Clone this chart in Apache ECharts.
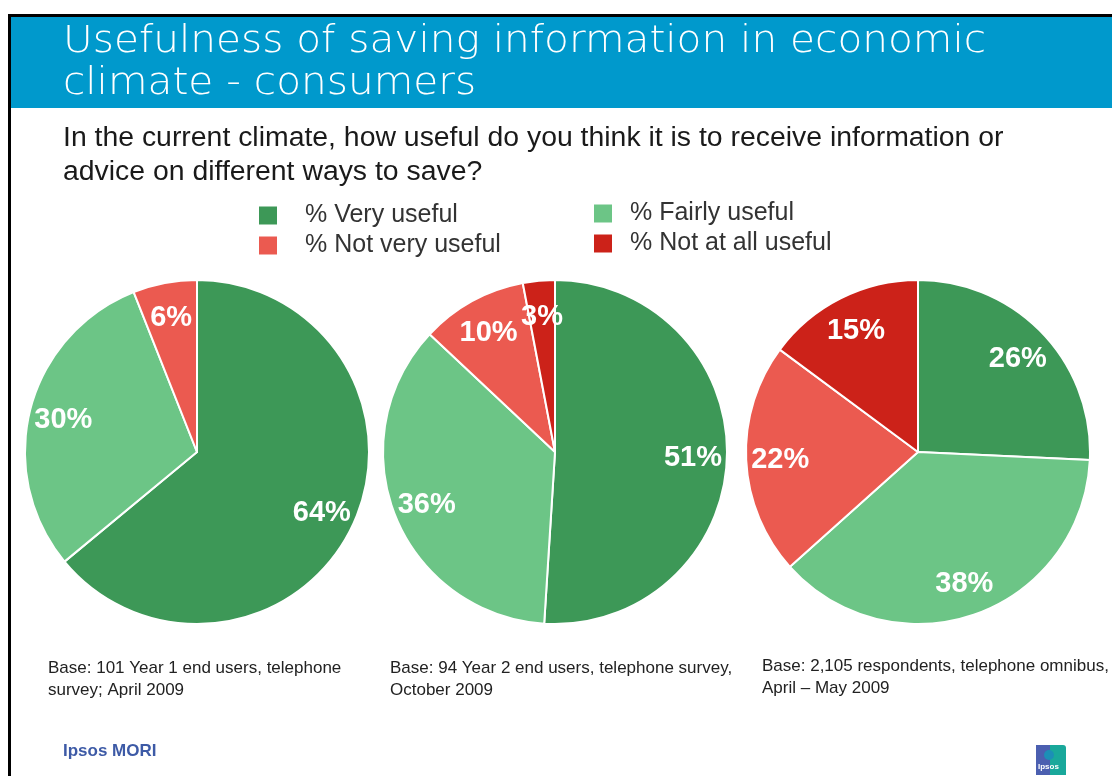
<!DOCTYPE html>
<html>
<head>
<meta charset="utf-8">
<title>Usefulness of saving information in economic climate - consumers</title>
<script src="https://cdn.jsdelivr.net/npm/echarts@6/dist/echarts.min.js"></script>
<style>
  html, body { margin: 0; padding: 0; background: #ffffff; }
  #chart { width: 1112px; height: 776px; }
</style>
</head>
<body>
<div id="chart"></div>
<script>
// Response categories (clockwise order from 12 o'clock)
const categories = ['% Very useful', '% Fairly useful', '% Not very useful', '% Not at all useful'];
const categoryColors = ['#3d9857', '#6cc586', '#eb5a50', '#cc2219'];

// Percentages for each survey
const year1Values = [64, 30, 6, 0];
const year2Values = [51, 36, 10, 3];
const omnibusValues = [26, 38, 22, 15];

// Base notes under each pie
const baseNotes = [
  ['Base: 101 Year 1 end users, telephone', 'survey; April 2009'],
  ['Base: 94 Year 2 end users, telephone survey,', 'October 2009'],
  ['Base: 2,105 respondents, telephone omnibus,', 'April \u2013 May 2009']
];

const titleLines = ['Usefulness of saving information in economic', 'climate - consumers'];
const questionLines = [
  'In the current climate, how useful do you think it is to receive information or',
  'advice on different ways to save?'
];

const surveys = [year1Values, year2Values, omnibusValues];
const pieCenters = [[197, 452], [555, 452], [918, 452]];
const pieRadius = 172;

function sliceData(values) {
  return categories
    .map((name, i) => ({ name: name, value: values[i], itemStyle: { color: categoryColors[i] } }))
    .filter(d => d.value > 0);
}

const series = [];
// Filled pies
surveys.forEach((values, k) => {
  series.push({
    type: 'pie',
    center: pieCenters[k],
    radius: [0, pieRadius],
    startAngle: 90,
    clockwise: true,
    animation: false,
    silent: true,
    label: { show: false },
    labelLine: { show: false },
    itemStyle: { borderColor: '#ffffff', borderWidth: 2 },
    emphasis: { disabled: true },
    data: sliceData(values)
  });
});
// Percentage labels placed on an outer ring of the same slices
surveys.forEach((values, k) => {
  series.push({
    type: 'pie',
    center: pieCenters[k],
    radius: [100, 170],
    startAngle: 90,
    clockwise: true,
    animation: false,
    silent: true,
    z: 3,
    itemStyle: { color: 'rgba(0,0,0,0)', borderWidth: 0 },
    emphasis: { disabled: true },
    label: {
      show: true,
      position: 'inside',
      formatter: '{c}%',
      color: '#ffffff',
      fontFamily: 'Arial, "Liberation Sans", sans-serif',
      fontWeight: 'bold',
      fontSize: 29,
      offset: [0, 2]
    },
    labelLine: { show: false },
    data: sliceData(values).map(d => ({ name: d.name, value: d.value }))
  });
});

const graphics = [
  // Page frame lines
  { type: 'rect', shape: { x: 8, y: 14, width: 1104, height: 3 }, style: { fill: '#000000' }, silent: true },
  { type: 'rect', shape: { x: 8, y: 14, width: 3, height: 762 }, style: { fill: '#000000' }, silent: true },
  // Title band
  { type: 'rect', shape: { x: 11, y: 17, width: 1101, height: 91 }, style: { fill: '#0099cc' }, silent: true },
  {
    type: 'text', x: 63, y: 21, scaleX: 1.098,
    style: {
      text: titleLines.join('\n'),
      x: 0, y: 0,
      verticalAlign: 'top',
      fill: '#ffffff',
      font: '300 37px "DejaVu Sans", Verdana, sans-serif',
      lineHeight: 42
    }
  },
  {
    type: 'text', left: 63, top: 121,
    style: {
      text: questionLines.join('\n'),
      fill: '#1a1a1a',
      font: '28.4px Arial, "Liberation Sans", sans-serif',
      lineHeight: 34
    }
  },
  // Publisher name
  {
    type: 'text', left: 63, top: 743,
    style: {
      text: 'Ipsos MORI',
      fill: '#3d5aa6',
      font: 'bold 17px Arial, "Liberation Sans", sans-serif'
    }
  },
  // Logo mark
  { type: 'rect', shape: { x: 1036, y: 745, width: 16, height: 30 }, style: { fill: '#4b5fb0' }, silent: true },
  { type: 'rect', shape: { x: 1050, y: 745, width: 16, height: 30, r: [0, 3, 0, 0] }, style: { fill: '#19a89b' }, silent: true },
  { type: 'circle', shape: { cx: 1049, cy: 755, r: 5 }, style: { fill: '#1c8fb6' }, silent: true },
  {
    type: 'text', left: 1038, top: 763,
    style: { text: 'Ipsos', fill: '#ffffff', font: 'bold 8px Arial, sans-serif' }
  }
];

const notePositions = [[48, 657], [390, 657], [762, 655]];
baseNotes.forEach((lines, k) => {
  graphics.push({
    type: 'text', left: notePositions[k][0], top: notePositions[k][1],
    style: {
      text: lines.join('\n'),
      fill: '#222222',
      font: '17px Arial, "Liberation Sans", sans-serif',
      lineHeight: 22
    }
  });
});

const legendCommon = {
  orient: 'vertical',
  icon: 'rect',
  itemWidth: 20,
  itemHeight: 20,
  itemGap: 5,
  padding: 0,
  selectedMode: false,
  textStyle: {
    color: '#333333',
    fontFamily: 'Arial, "Liberation Sans", sans-serif',
    fontSize: 25
  }
};

const option = {
  backgroundColor: '#ffffff',
  animation: false,
  legend: [
    Object.assign({}, legendCommon, {
      left: 257, top: 203,
      data: [categories[0], categories[2]],
      textStyle: Object.assign({}, legendCommon.textStyle, { padding: [0, 0, 0, 22] })
    }),
    Object.assign({}, legendCommon, {
      left: 592, top: 201,
      data: [categories[1], categories[3]],
      textStyle: Object.assign({}, legendCommon.textStyle, { padding: [0, 0, 0, 12] })
    })
  ],
  graphic: graphics,
  series: series
};

const chart = echarts.init(document.getElementById('chart'), null, { renderer: 'canvas' });
chart.setOption(option);
</script>
</body>
</html>
